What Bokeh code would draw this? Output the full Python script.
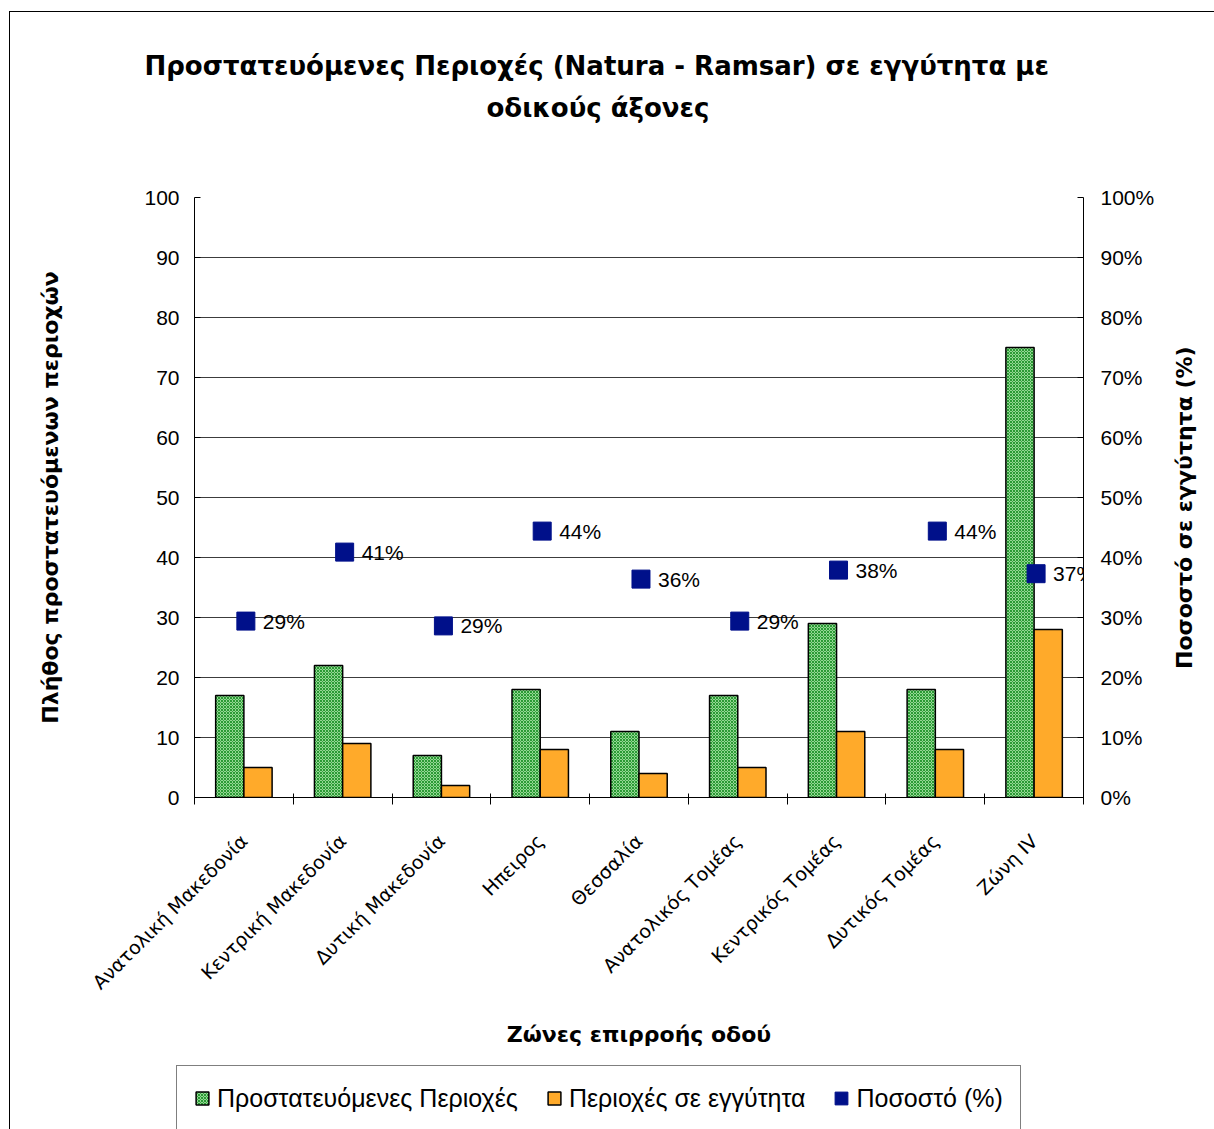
from bokeh.plotting import figure
from bokeh.layouts import column, row
from bokeh.models import (Range1d, LinearAxis, FixedTicker, PrintfTickFormatter, Title, Label,
                          LabelSet, ColumnDataSource, Legend, LegendItem)
from bokeh.core.properties import value
from bokeh.embed import file_html
from bokeh.resources import INLINE
import math

categories = ["Ανατολική Μακεδονία", "Κεντρική Μακεδονία", "Δυτική Μακεδονία", "Ηπειρος",
              "Θεσσαλία", "Ανατολικός Τομέας", "Κεντρικός Τομέας", "Δυτικός Τομέας", "Ζώνη IV"]
protected = [17, 22, 7, 18, 11, 17, 29, 18, 75]
nearby = [5, 9, 2, 8, 4, 5, 11, 8, 28]
percent = [29.4, 40.9, 28.6, 44.4, 36.4, 29.4, 37.9, 44.4, 37.3]
pct_labels = ["29%", "41%", "29%", "44%", "36%", "29%", "38%", "44%", "37%"]
left_ticks = [0, 10, 20, 30, 40, 50, 60, 70, 80, 90, 100]

n = len(categories)
idx = list(range(n))
bw = 1 / 3.5

src = ColumnDataSource(dict(
    xg=[i + 0.5 - bw / 2 for i in idx],
    xo=[i + 0.5 + bw / 2 for i in idx],
    xm=[i + 0.52 for i in idx],
    prot=protected, near=nearby, pct=percent, lab=pct_labels,
))

FONT = "Liberation Sans"
HFONT = "DejaVu Sans"

GREEN = dict(fill_color="#93d893", hatch_pattern="diagonal_cross", hatch_color="#2a9a34",
             hatch_scale=3, hatch_weight=1, line_color="black", line_width=1.5)
ORANGE = dict(fill_color="#FFAA2A", line_color="black", line_width=1.5)
NAVY = "#00108A"

TOTAL_W = 1204
RW = 54                      # strip on the right that holds the right-axis title
W, H = TOTAL_W - RW, 1038
BT, BB = 185, 251            # top / bottom borders around the plotting frame
p = figure(width=W, height=H, output_backend="svg", toolbar_location=None,
           x_range=Range1d(0, n), y_range=Range1d(0, 100),
           min_border_left=184, min_border_right=W - 184 - 889, min_border_top=BT,
           min_border_bottom=BB,
           outline_line_color=None, background_fill_color="white", border_fill_color="white")
p.extra_y_ranges = {"pct": Range1d(0, 100)}

# titles (spacer first: closest to the frame)
p.add_layout(Title(text=" ", text_font_size="10px", standoff=57), "above")
p.add_layout(Title(text="οδικούς άξονες", align="left", offset=292, text_font=HFONT,
                   text_font_size="26px", text_font_style="bold", text_color="black"), "above")
p.add_layout(Title(text="Προστατευόμενες Περιοχές (Natura - Ramsar) σε εγγύτητα με", align="left",
                   offset=-50, text_font=HFONT, text_font_size="26px", text_font_style="bold",
                   text_color="black"), "above")

# grid
p.xgrid.visible = False
p.ygrid.ticker = FixedTicker(ticks=left_ticks)
p.ygrid.grid_line_color = "#3c3c3c"
p.ygrid.grid_line_width = 1

# left axis
ya = p.yaxis[0]
ya.ticker = FixedTicker(ticks=left_ticks)
ya.major_tick_in = 6
ya.major_tick_out = 0
ya.minor_tick_line_color = None
ya.axis_line_color = "black"
ya.major_tick_line_color = "black"
ya.major_label_text_font = FONT
ya.major_label_text_font_size = "21px"
ya.major_label_text_color = "black"
ya.major_label_standoff = 15
ya.axis_label = "Πλήθος προστατευόμενων περιοχών"
ya.axis_label_text_font = HFONT
ya.axis_label_text_font_size = "22px"
ya.axis_label_text_font_style = "bold"
ya.axis_label_text_color = "black"
ya.axis_label_standoff = 78

# right axis
ra = LinearAxis(y_range_name="pct", ticker=FixedTicker(ticks=left_ticks),
                formatter=PrintfTickFormatter(format="%d%%"))
ra.major_tick_in = 6
ra.major_tick_out = 0
ra.minor_tick_line_color = None
ra.axis_line_color = "black"
ra.major_label_text_font = FONT
ra.major_label_text_font_size = "21px"
ra.major_label_text_color = "black"
ra.major_label_standoff = 17
p.add_layout(ra, "right")

# x axis
xa = p.xaxis[0]
xa.ticker = FixedTicker(ticks=[i + 0.5 for i in idx], minor_ticks=list(range(n + 1)))
xa.major_label_overrides = {i + 0.5: c for i, c in zip(idx, categories)}
xa.major_tick_line_color = None
xa.minor_tick_in = 4
xa.minor_tick_out = 7
xa.minor_tick_line_color = "black"
xa.axis_line_color = "black"
xa.major_label_orientation = math.pi / 4
xa.major_label_text_font = HFONT
xa.major_label_text_font_size = "19px"
xa.major_label_text_color = "black"
xa.major_label_standoff = 33
xa.axis_label = "Ζώνες επιρροής οδού"
xa.axis_label_text_font = HFONT
xa.axis_label_text_font_size = "22px"
xa.axis_label_text_font_style = "bold"
xa.axis_label_text_color = "black"
xa.axis_label_standoff = 18

# bars and markers
rg = p.vbar(x="xg", top="prot", width=bw, bottom=0, source=src, **GREEN)
ro = p.vbar(x="xo", top="near", width=bw, bottom=0, source=src, **ORANGE)
rm = p.scatter(x="xm", y="pct", source=src, marker="square", size=18,
               fill_color=NAVY, line_color=NAVY, y_range_name="pct")

ls = LabelSet(x="xm", y="pct", text="lab", source=src, y_range_name="pct",
              x_offset=17, text_baseline="middle", text_align="left",
              text_font=value(FONT), text_font_size=value("21px"), text_color="black")
p.add_layout(ls)

# right strip: secondary-axis title, reading bottom to top
rp = figure(width=RW, height=H, output_backend="svg", toolbar_location=None,
            x_range=Range1d(0, 1), y_range=Range1d(0, 100), x_axis_type=None, y_axis_type=None,
            min_border_left=0, min_border_right=0, min_border_top=BT, min_border_bottom=BB,
            outline_line_color=None, background_fill_color="white", border_fill_color="white")
rp.xgrid.visible = False
rp.ygrid.visible = False
rp.add_layout(Label(x=0.44, y=48.3, text="Ποσοστό σε εγγύτητα (%)", angle=math.pi / 2,
                    text_align="center", text_baseline="middle", text_font=HFONT,
                    text_font_size="22px", text_font_style="bold", text_color="black"))

# legend strip (separate figure below the chart; its renderers only carry the legend styles)
LH = 79
lp = figure(width=TOTAL_W, height=LH, output_backend="svg", toolbar_location=None,
            x_range=Range1d(0, 1), y_range=Range1d(0, 1), x_axis_type=None, y_axis_type=None,
            min_border_left=166, min_border_right=0, min_border_top=0, min_border_bottom=0,
            outline_line_color=None, background_fill_color="white", border_fill_color="white")
lp.xgrid.visible = False
lp.ygrid.visible = False
nan = float("nan")
lg = lp.vbar(x=[nan], top=[nan], width=0.1, **GREEN)
lo = lp.vbar(x=[nan], top=[nan], width=0.1, **ORANGE)
lm = lp.quad(left=[nan], right=[nan], top=[nan], bottom=[nan], fill_color=NAVY, line_color=NAVY)

legend = Legend(items=[LegendItem(label="Προστατευόμενες Περιοχές", renderers=[lg]),
                       LegendItem(label="Περιοχές σε εγγύτητα", renderers=[lo]),
                       LegendItem(label="Ποσοστό (%)", renderers=[lm])],
                orientation="horizontal", location=(0, -2),
                label_text_font=FONT, label_text_font_size="25px", label_text_color="black",
                glyph_width=16, glyph_height=16, spacing=28, padding=17, margin=0,
                label_standoff=7, border_line_color="black", border_line_width=1,
                background_fill_color="white", label_height=30)
lp.add_layout(legend, "center")

layout = column(row(p, rp, spacing=0), lp, spacing=0,
                styles={"margin-left": "9px", "margin-top": "11px",
                        "border-left": "1px solid black", "border-top": "1px solid black"})

open("out.html", "w").write(file_html(layout, INLINE))
